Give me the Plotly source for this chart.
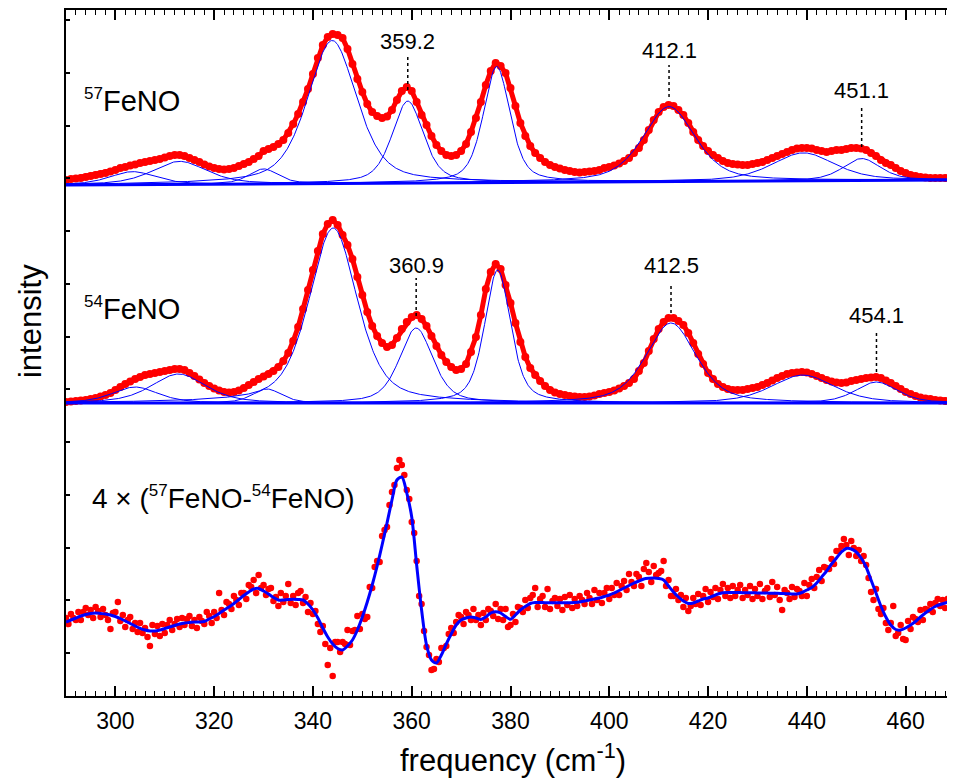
import numpy as np
import plotly.graph_objects as go

# ---------------- data ----------------
freq = list(range(290, 471))  # cm-1, 1 cm-1 steps

# 57FeNO spectrum, intensity above its baseline
fe57 = [4, 5, 5.5, 6, 7, 8, 9, 10, 11, 12.5,
        14, 16, 17, 18.5, 19.5, 21, 22, 23, 24, 25,
        26.5, 28, 29, 29, 28, 26, 24, 22, 19.5, 17.5,
        16, 15, 14.5, 15, 16, 18, 20, 22, 25, 28,
        33, 35, 37, 40, 44, 51, 60, 70, 82, 95,
        110, 126, 139, 147, 150, 149, 146, 135, 120, 105,
        92, 80, 72, 68, 66, 67.5, 74, 84, 93, 97,
        93, 82, 69, 59, 48, 39, 33, 29, 28, 29,
        33, 40, 52, 66, 82, 99, 113, 121, 118, 111,
        96, 78, 61, 48, 38, 31, 26, 22, 19, 17,
        15.5, 14, 13, 12, 11.5, 12, 12.5, 13, 14, 16,
        17, 18.5, 20.5, 23, 26, 31, 36, 44, 54, 64,
        72, 77, 79, 78, 74, 69, 61, 52, 44, 38,
        33, 29, 26, 23, 21, 20, 19.5, 19, 19, 20,
        21, 22, 24, 26, 28, 30, 32, 34, 35.5, 36,
        36, 35.5, 34, 33, 32, 33, 34, 34, 35, 36,
        36, 35.5, 34, 31, 28, 24, 21, 19, 16, 13,
        11, 9, 8, 7, 6.5, 6, 6, 6, 6, 7,
        8]

# 54FeNO spectrum, intensity above its baseline
fe54 = [1, 1.5, 2, 2.5, 3, 4, 5, 6.5, 8, 10,
        13, 16, 19, 21.5, 24, 26, 28, 29, 30, 31,
        32, 33, 34, 34, 33, 30, 27, 23.5, 20, 17,
        14.5, 12.5, 11, 10.5, 11, 12.5, 15, 18, 21, 24,
        26.5, 29, 32, 36, 42, 50, 62, 76, 94, 113,
        133, 152, 169, 179, 183, 178, 168, 158, 144, 126,
        108, 91, 77, 67, 60, 56, 58, 65, 74, 81,
        86, 88, 84, 77, 67, 57, 48, 41, 36, 33,
        34, 39, 51, 66, 88, 114, 131, 139, 134, 118,
        100, 80, 61, 46, 35, 28, 22, 17, 13, 10.5,
        9, 8, 7, 6.5, 6, 6, 6.5, 7.5, 9, 10,
        11, 12.5, 14.5, 17, 20, 24, 32, 40, 52, 64,
        74, 81, 85, 85, 82, 78, 70, 60, 49, 39,
        30, 24, 19, 16, 14, 13, 13, 13, 14, 15,
        16, 18, 20, 22.5, 25, 27, 29, 30, 30.5, 31,
        30.5, 29, 27, 25, 23, 21.5, 20.5, 20, 20.5, 22,
        23, 24, 25, 25.5, 26, 25, 22.5, 20, 17, 14,
        11, 9, 7, 5.5, 4.5, 4, 3, 2.5, 2, 2,
        2]

# fitted component peaks: centre (cm-1), height, FWHM (cm-1)
fe57_centres = [303.5, 313.0, 330.0, 343.9, 359.2, 377.2, 412.1, 439.3, 451.1]
fe57_heights = [13, 23, 15, 143, 82, 116, 75, 28, 22]
fe57_widths = [11, 13, 7, 11.8, 7.5, 6.4, 12.5, 15, 9]
fe57_baseline_x = [290, 470]
fe57_baseline_y = [-1, 4]

fe54_centres = [304.0, 312.8, 330.7, 344.1, 360.9, 377.4, 412.5, 439.2, 454.1]
fe54_heights = [16, 29, 14, 175, 75, 133, 80, 28, 21]
fe54_widths = [11, 13, 7, 11.5, 8, 6.2, 12, 15, 10]
fe54_baseline_x = [290, 470]
fe54_baseline_y = [0, 0]

# difference spectrum 4 x (57FeNO - 54FeNO)
diff_freq = [290 + 0.5 * i for i in range(361)]
diff_data = [78, 72, 82, 78, 76, 84, 76, 84, 88, 81,
             86, 78, 89, 85, 79, 87, 81, 76, 67, 83,
             84, 94, 75, 81, 69, 76, 79, 67, 73, 64,
             73, 63, 68, 59, 50, 71, 62, 70, 60, 72,
             63, 71, 76, 66, 72, 77, 69, 78, 71, 77,
             80, 70, 76, 68, 79, 75, 72, 84, 80, 73,
             84, 78, 103, 86, 81, 94, 92, 87, 100, 96,
             91, 103, 103, 97, 111, 109, 116, 103, 121, 108,
             111, 101, 107, 108, 95, 99, 90, 103, 94, 100,
             112, 93, 100, 91, 103, 105, 93, 99, 84, 93,
             82, 85, 72, 64, 70, 52, 31, 48, 20, 54,
             54, 44, 54, 52, 66, 51, 65, 66, 80, 67,
             82, 77, 79, 109, 108, 129, 135, 134, 160, 166,
             169, 191, 204, 211, 228, 236, 231, 221, 206, 197,
             174, 163, 135, 100, 92, 65, 49, 41, 26, 27,
             37, 34, 48, 48, 50, 62, 68, 63, 74, 81,
             79, 72, 84, 81, 76, 87, 76, 81, 71, 83,
             76, 87, 85, 80, 92, 77, 87, 76, 87, 69,
             71, 82, 74, 89, 88, 84, 96, 88, 98, 101,
             108, 89, 97, 100, 89, 107, 87, 95, 98, 90,
             97, 86, 99, 91, 101, 88, 97, 90, 100, 96,
             92, 103, 98, 92, 106, 96, 103, 93, 103, 108,
             97, 108, 101, 113, 101, 110, 115, 106, 122, 114,
             110, 122, 119, 110, 127, 133, 124, 114, 130, 121,
             123, 125, 135, 110, 116, 100, 100, 107, 96, 101,
             89, 98, 85, 90, 98, 92, 102, 91, 100, 107,
             94, 104, 99, 108, 97, 106, 112, 100, 108, 98,
             110, 100, 106, 111, 98, 106, 101, 110, 97, 107,
             100, 112, 97, 105, 108, 99, 114, 101, 109, 96,
             86, 106, 103, 97, 109, 99, 107, 105, 100, 113,
             100, 111, 117, 108, 119, 126, 115, 129, 128, 127,
             137, 132, 145, 145, 150, 157, 151, 141, 155, 148,
             140, 146, 135, 140, 131, 118, 104, 96, 107, 87,
             82, 88, 73, 66, 73, 90, 60, 63, 71, 57,
             56, 75, 67, 79, 77, 74, 86, 76, 87, 86,
             92, 84, 93, 97, 90, 96, 88, 97, 96, 91,
             96]
diff_fit = [74, 76, 78, 80, 81.5, 82.5, 83, 82.5, 82, 81,
            79.5, 77.5, 75, 72.5, 70, 67.7, 66, 65, 65, 66,
            67.5, 69, 70.5, 72, 73, 73.5, 74, 74, 74.5, 77,
            79.5, 82.5, 86, 89, 92.5, 96.5, 100.5, 104, 107, 107.5,
            105, 102, 98.5, 96, 96, 96.5, 96.7, 96.5, 96, 92,
            86, 78, 68, 59, 52, 47.5, 46, 50, 56, 66,
            79, 94, 111, 130, 151, 173, 196, 216, 219, 203,
            179, 131, 86, 51, 36, 33, 41, 52, 62, 71,
            76, 78, 79, 78, 76.5, 79, 83, 84.3, 83, 79.5,
            76.7, 81, 86, 89.5, 92.5, 93.5, 93.5, 93.3, 93.3, 93.3,
            93.3, 93.3, 93.3, 93.5, 94, 95, 96, 97, 98, 99.5,
            101, 103, 105.5, 108, 110.5, 113, 115, 117, 117.7, 118,
            117.5, 116, 110, 104, 99, 95, 92.5, 93, 95, 97,
            98, 100, 102, 103.3, 103.5, 103.5, 103.5, 103.3, 103.3, 103.3,
            103, 103, 103, 102.7, 102.7, 102.5, 102.3, 102, 102, 103.5,
            106, 108.5, 113, 119, 125, 132, 138, 144, 147.5, 147,
            144, 138, 129, 116, 103, 90, 79, 71, 66.5, 66,
            68, 71, 74.5, 79, 83, 86.5, 89.5, 91.5, 93, 94,
            94.5]

# vertical stacking offsets of the three traces
offset_57 = 512
offset_54 = 293
offset_diff = 0

# peak labels: value text, label height, dotted-line bottom, dotted-line top
peak_labels = ["359.2", "412.1", "451.1", "360.9", "412.5", "454.1"]
peak_label_x = [359.2, 412.1, 451.1, 360.9, 412.5, 454.1]
peak_label_y = [655, 646, 606, 431, 431, 381]
peak_line_y0 = [606, 599, 549, 380, 383, 324]
peak_line_y1 = [640, 631, 591, 418, 413, 366]

x_ticks = list(range(300, 461, 20))

# ---------------- figure ----------------
RED = "#ff0000"
BLUE = "#0000ff"
FONT = "Liberation Sans, Arial, Helvetica, sans-serif"

x_model = np.linspace(290, 470, 1441)


def pseudo_voigt(x, c, h, w, eta=0.5):
    g = np.exp(-4 * np.log(2) * ((x - c) / w) ** 2)
    lor = 1.0 / (1.0 + 4 * ((x - c) / w) ** 2)
    return h * (eta * lor + (1 - eta) * g)


def sup(t, size):
    return "<sup><span style='font-size:%dpx'>%s</span></sup>" % (size, t)


fig = go.Figure()

# measured spectra (red dots)
for vals, off in [(fe57, offset_57), (fe54, offset_54)]:
    fig.add_trace(go.Scatter(
        x=freq, y=[v + off for v in vals], mode="lines+markers",
        line=dict(color=RED, width=5),
        marker=dict(color=RED, size=8), showlegend=False, hoverinfo="skip"))

# fitted components (thin blue)
for centres, heights, widths, bx, by, off in [
        (fe57_centres, fe57_heights, fe57_widths, fe57_baseline_x, fe57_baseline_y, offset_57),
        (fe54_centres, fe54_heights, fe54_widths, fe54_baseline_x, fe54_baseline_y, offset_54)]:
    base = np.interp(x_model, bx, by) + off
    for c, h, w in zip(centres, heights, widths):
        fig.add_trace(go.Scatter(
            x=x_model, y=base + pseudo_voigt(x_model, c, h, w),
            mode="lines", line=dict(color=BLUE, width=1),
            showlegend=False, hoverinfo="skip"))
    fig.add_trace(go.Scatter(
        x=bx, y=[v + off for v in by], mode="lines",
        line=dict(color=BLUE, width=3), showlegend=False, hoverinfo="skip"))

# difference spectrum
fig.add_trace(go.Scatter(
    x=diff_freq, y=[v + offset_diff for v in diff_data], mode="markers",
    marker=dict(color=RED, size=6.5), showlegend=False, hoverinfo="skip"))
fig.add_trace(go.Scatter(
    x=freq, y=[v + offset_diff for v in diff_fit], mode="lines",
    line=dict(color=BLUE, width=3, shape="spline", smoothing=0.8),
    showlegend=False, hoverinfo="skip"))

# peak labels + dotted leader lines
for t, x, y, y0, y1 in zip(peak_labels, peak_label_x, peak_label_y,
                           peak_line_y0, peak_line_y1):
    fig.add_annotation(x=x, y=y, xref="x", yref="y", text=t, showarrow=False,
                       xanchor="center", yanchor="middle",
                       font=dict(size=22, color="black", family=FONT))
    fig.add_shape(type="line", xref="x", yref="y", x0=x, x1=x, y0=y0, y1=y1,
                  line=dict(color="black", width=1.5, dash="dot"))

# spectrum labels
fig.add_annotation(x=293.3, y=596, xref="x", yref="y",
                   text=sup("57", 17) + "FeNO", showarrow=False,
                   xanchor="left", yanchor="middle",
                   font=dict(size=29, color="black", family=FONT))
fig.add_annotation(x=293.3, y=388, xref="x", yref="y",
                   text=sup("54", 17) + "FeNO", showarrow=False,
                   xanchor="left", yanchor="middle",
                   font=dict(size=29, color="black", family=FONT))
fig.add_annotation(x=294.9, y=199, xref="x", yref="y",
                   text="4 × (" + sup("57", 17) + "FeNO-" + sup("54", 17) + "FeNO)",
                   showarrow=False, xanchor="left", yanchor="middle",
                   font=dict(size=28, color="black", family=FONT))

# axis titles
fig.add_annotation(x=-0.0405, y=0.5466, xref="paper", yref="paper",
                   text="intensity", textangle=-90, showarrow=False,
                   xanchor="center", yanchor="middle",
                   font=dict(size=31, color="black", family=FONT))
fig.add_annotation(x=0.503, y=-0.0904, xref="paper", yref="paper",
                   text="frequency (cm<sup>-1</sup>)", showarrow=False,
                   xanchor="center", yanchor="middle",
                   font=dict(size=31, color="black", family=FONT))

fig.update_xaxes(range=[290, 470], tickvals=x_ticks,
                 ticks="inside", ticklen=10, tickwidth=1.5, tickcolor="black",
                 minor=dict(dtick=2, tick0=290, ticks="inside", ticklen=5,
                            tickwidth=1.2, tickcolor="black"),
                 showline=True, linewidth=2, linecolor="black", mirror="ticks",
                 showgrid=False, zeroline=False, ticklabelstandoff=3,
                 tickfont=dict(size=23, color="black", family=FONT))
fig.update_yaxes(range=[0, 686], tick0=43, dtick=52.75,
                 ticks="inside", ticklen=4, tickwidth=1.5, tickcolor="black",
                 showticklabels=False,
                 showline=True, linewidth=2, linecolor="black", mirror=False,
                 showgrid=False, zeroline=False)

# the page body adds an 8 px margin, so the figure is sized/offset to compensate
fig.update_layout(width=947, height=772,
                  margin=dict(l=58, r=0, t=2, b=84),
                  paper_bgcolor="white", plot_bgcolor="white",
                  font=dict(family=FONT, color="black"))

fig.write_html("out.html")
